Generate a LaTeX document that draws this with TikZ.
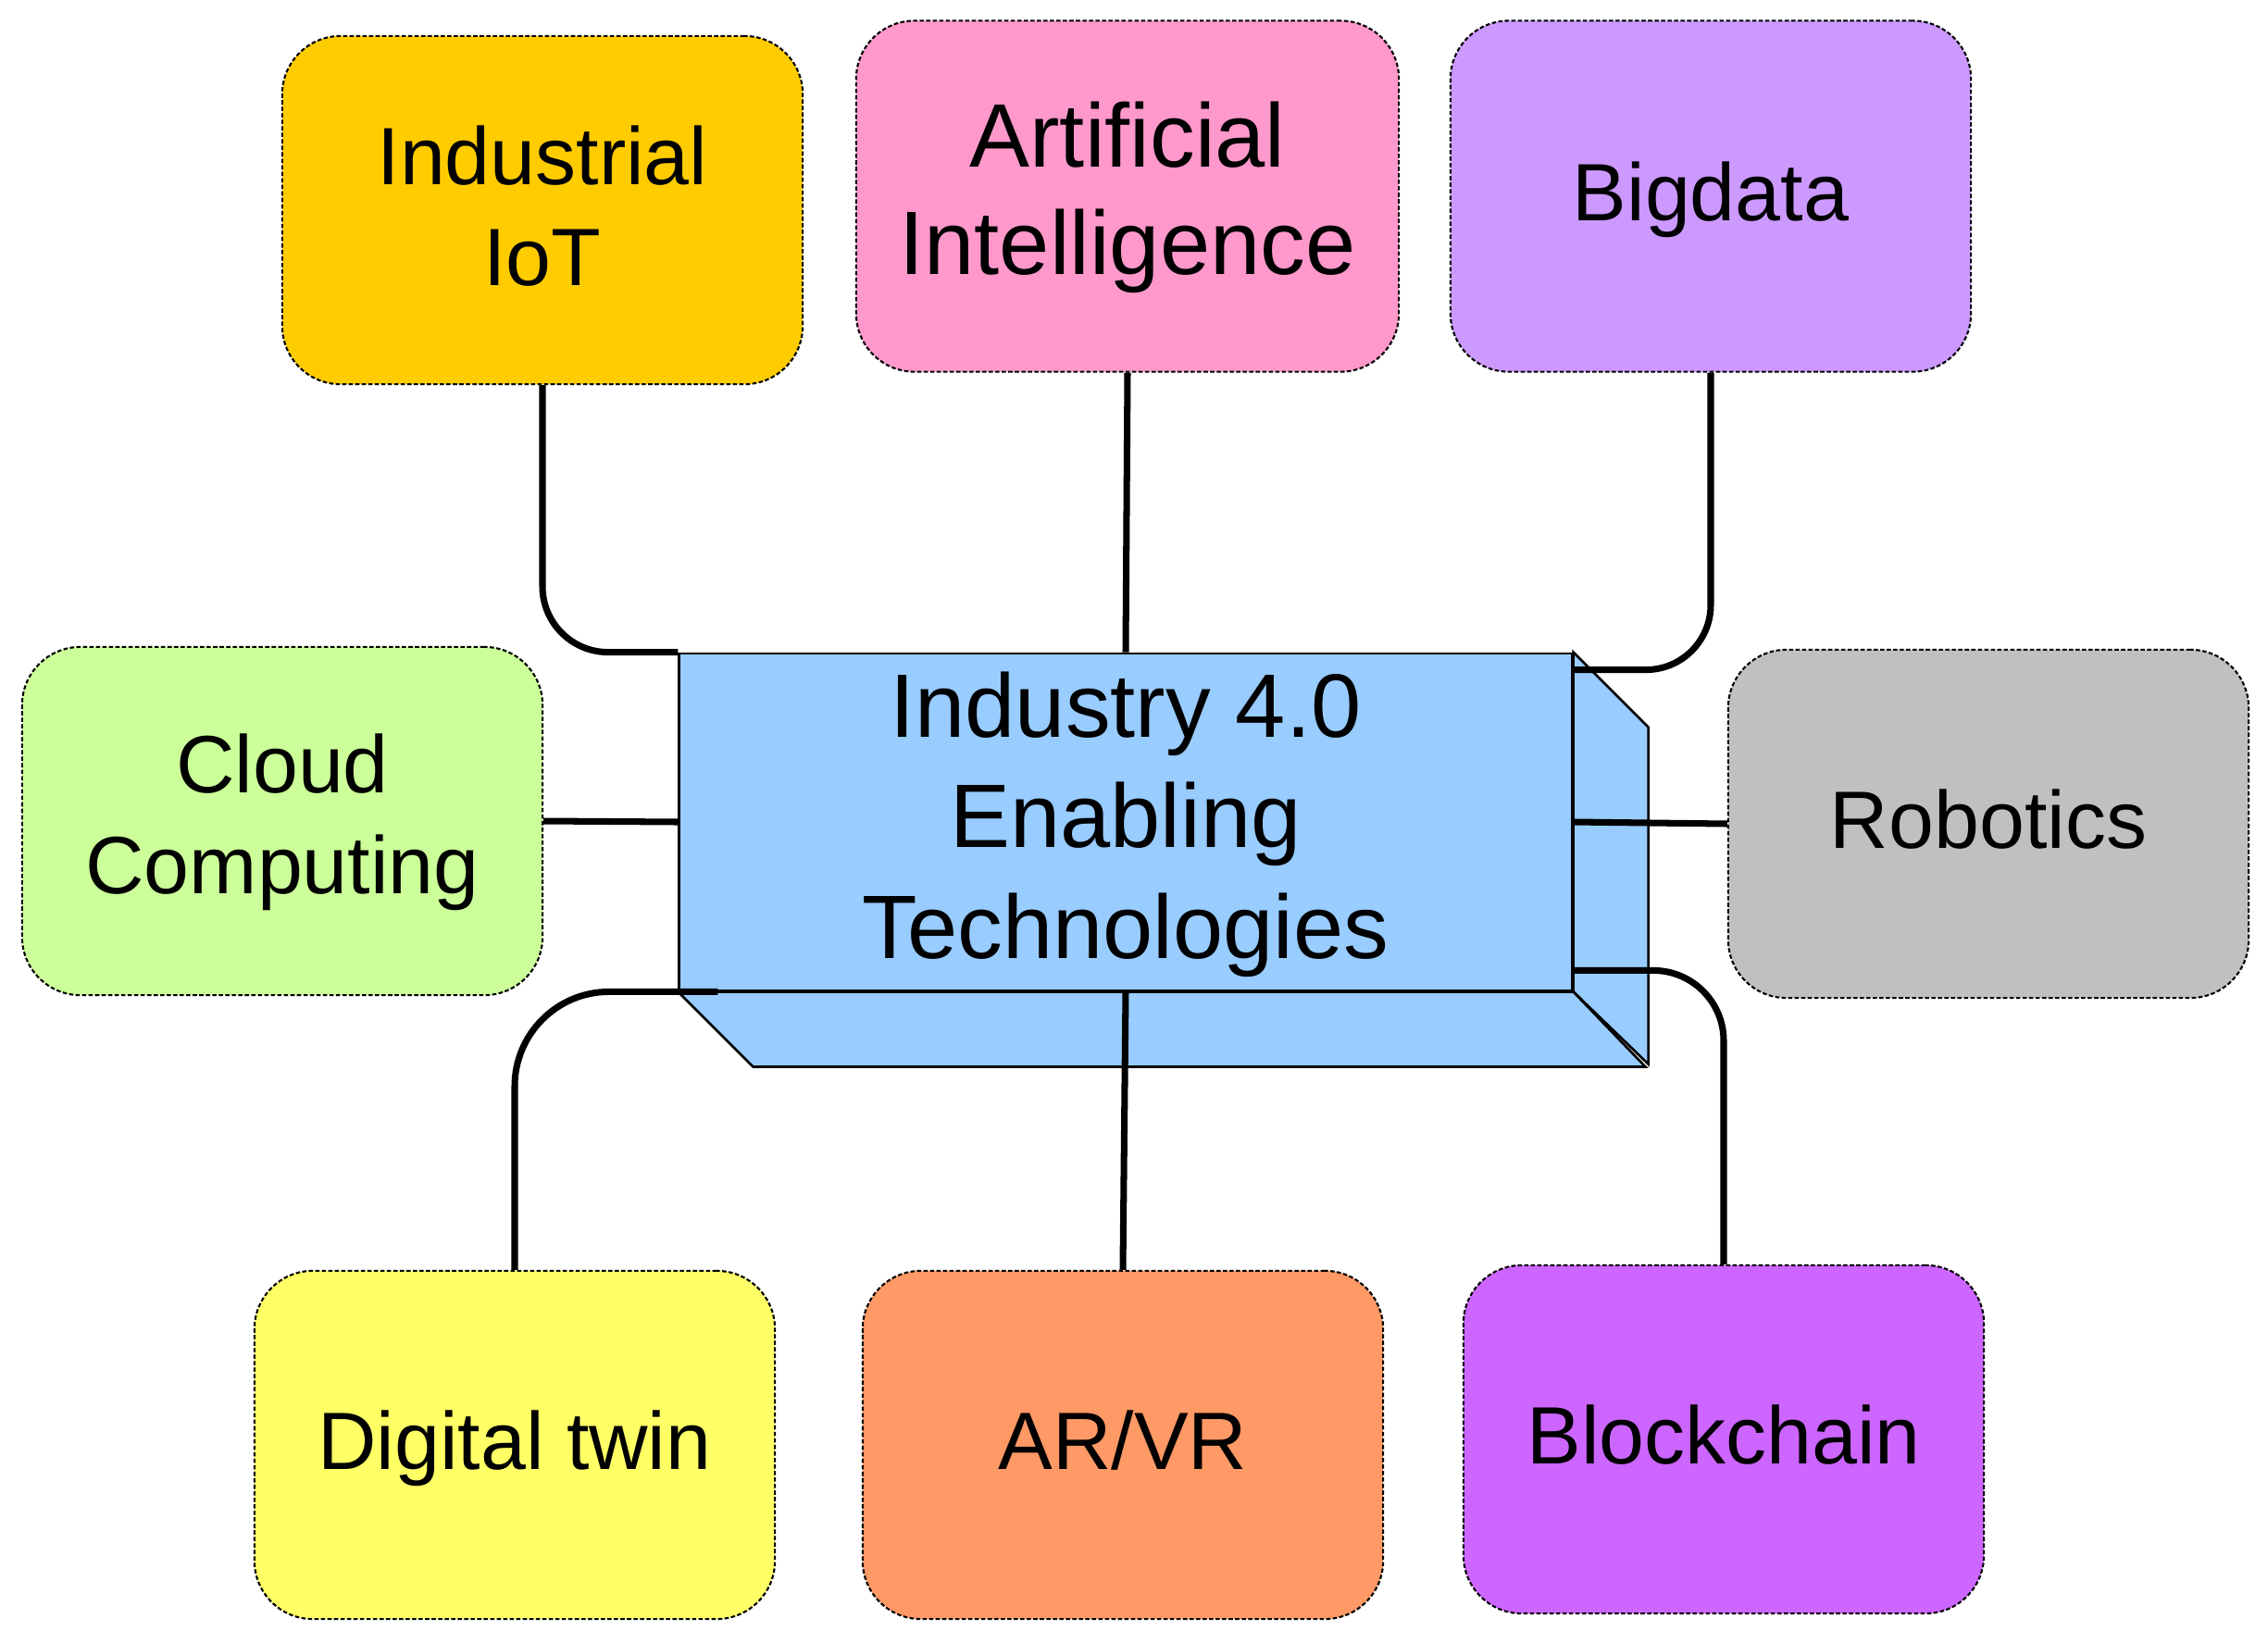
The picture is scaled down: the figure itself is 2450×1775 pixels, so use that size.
\documentclass[tikz,border=0pt]{standalone}
\usepackage{fontspec}
\setmainfont{Liberation Sans}
\definecolor{cIIoT}{HTML}{FFCC00}
\definecolor{cAI}{HTML}{FF99CC}
\definecolor{cBig}{HTML}{CC99FF}
\definecolor{cCloud}{HTML}{CCFF99}
\definecolor{cRobot}{HTML}{C0C0C0}
\definecolor{cTwin}{HTML}{FFFF66}
\definecolor{cARVR}{HTML}{FF9966}
\definecolor{cChain}{HTML}{CC66FF}
\definecolor{cCore}{HTML}{99CCFF}
\tikzset{
  techbox/.style={draw, dash pattern=on 1.3pt off 0.7pt, line width=0.6pt,
    rounded corners=0.63cm, minimum width=5.62cm, minimum height=3.76cm,
    inner sep=0pt, align=center, text depth=0.1cm,
    font=\fontsize{25}{31}\selectfont},
  corebox/.style={draw, line width=0.75pt, fill=cCore, minimum width=9.64cm,
    minimum height=3.64cm, inner sep=0pt, align=center, text depth=0.15cm,
    font=\fontsize{27.7}{34}\selectfont},
  sideface/.style={draw, line width=0.75pt, fill=cCore, line join=miter},
  conn/.style={line width=2pt}
}
\begin{document}
\begin{tikzpicture}[x=0.01cm, y=-0.01cm]
\useasboundingbox (0,0) rectangle (2450,1775);
\fill[white] (0,0) rectangle (2450,1775);
% central block
\node[corebox] (core) at (1216,888) {Industry 4.0\\Enabling\\Technologies};
\draw[sideface] (core.north east) -- ++(81,81) -- ++(0,364) -- (core.south east) -- cycle;
\draw[sideface] (core.south west) -- ++(81,81) -- ++(964,0) -- (core.south east) -- cycle;
% satellite boxes
\node[techbox, fill=cIIoT] (iiot) at (586,227) {Industrial\\IoT};
\node[techbox, fill=cAI, minimum width=5.86cm, minimum height=3.79cm, text depth=0.18cm, font=\fontsize{27.7}{33}\selectfont] (ai) at (1218,212) {Artificial\\Intelligence};
\node[techbox, fill=cBig, minimum height=3.79cm] (big) at (1848,212) {Bigdata};
\node[techbox, fill=cCloud, text depth=0.16cm] (cloud) at (305,887) {Cloud\\Computing};
\node[techbox, fill=cRobot] (robot) at (2148,890) {Robotics};
\node[techbox, fill=cTwin] (twin) at (556,1561) {Digital twin};
\node[techbox, fill=cARVR] (arvr) at (1213,1561) {AR/VR};
\node[techbox, fill=cChain] (chain) at (1862,1555) {Blockchain};
% connectors
\draw[conn, rounded corners=0.71cm] (iiot.south) |- (core.north west);
\draw[conn] (ai.south) -- (core.north);
\draw[conn, rounded corners=0.7cm] (big.south) |- ([yshift=-0.19cm]core.north east);
\draw[conn] (cloud.east) -- (core.west);
\draw[conn] (core.east) -- (robot.west);
\draw[conn, rounded corners=1.02cm] ([xshift=0.43cm]core.south west) -| (twin.north);
\draw[conn] (core.south) -- (arvr.north);
\draw[conn, rounded corners=0.76cm] ([yshift=0.23cm]core.south east) -| (chain.north);
\end{tikzpicture}
\end{document}
